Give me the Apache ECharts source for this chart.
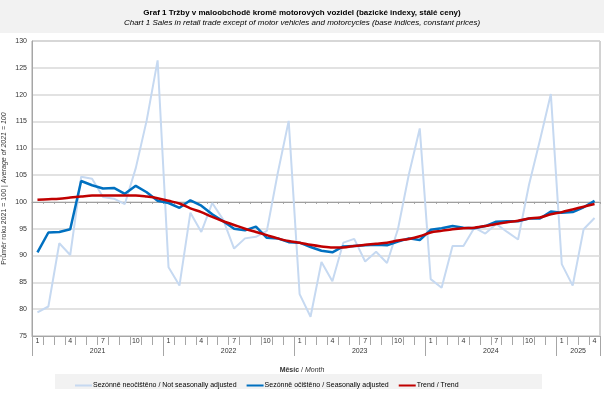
<!DOCTYPE html>
<html>
<head>
<meta charset="utf-8">
<script src="https://cdn.jsdelivr.net/npm/echarts@6/dist/echarts.min.js"></script>
<style>
  html, body { margin: 0; padding: 0; background: #fff; }
  #main { width: 604px; height: 396px; }
</style>
</head>
<body>
<div id="main"></div>
<script>
// rok a počet měsíců v každém roce
var years = ['2021', '2022', '2023', '2024', '2025'];
var monthsInYear = [12, 12, 12, 12, 4];

// Sezónně neočištěno / Not seasonally adjusted
var notAdjusted = [
  79.4, 80.5, 92.3, 90.1, 104.7, 104.3, 100.9, 100.6, 99.6, 106.3, 115.2, 126.4,
  87.8, 84.4, 98.0, 94.4, 99.8, 96.7, 91.3, 93.2, 93.5, 94.6, 105.4, 115.1,
  82.8, 78.6, 88.8, 85.2, 92.4, 93.1, 88.9, 90.7, 88.6, 94.9, 105.1, 113.7,
  85.6, 84.0, 91.8, 91.8, 95.2, 94.1, 95.9, 94.4, 93.0, 103.2, 111.5, 120.1,
  88.4, 84.4, 94.9, 97.0
];
// Sezónně očištěno / Seasonally adjusted
var adjusted = [
  90.6, 94.3, 94.4, 94.9, 103.9, 103.1, 102.5, 102.6, 101.5, 103.0, 101.8, 100.2,
  99.8, 98.9, 100.3, 99.3, 97.7, 96.4, 95.0, 94.7, 95.4, 93.3, 93.2, 92.5,
  92.4, 91.6, 90.9, 90.6, 91.7, 91.8, 91.9, 92.0, 91.9, 92.6, 93.2, 92.9,
  94.8, 95.1, 95.5, 95.2, 95.1, 95.5, 96.3, 96.4, 96.4, 96.9, 96.9, 98.2,
  98.0, 98.1, 99.0, 100.2
];
// Trend / Trend
var trend = [
  100.4, 100.5, 100.6, 100.8, 101.0, 101.2, 101.2, 101.2, 101.2, 101.2, 101.0, 100.7,
  100.2, 99.7, 98.8, 98.1, 97.2, 96.4, 95.7, 95.0, 94.4, 93.8, 93.2, 92.7,
  92.4, 92.0, 91.7, 91.5, 91.5, 91.8, 92.0, 92.2, 92.4, 92.8, 93.1, 93.6,
  94.3, 94.6, 94.9, 95.1, 95.2, 95.5, 95.9, 96.2, 96.5, 96.9, 97.1, 97.7,
  98.1, 98.6, 99.1, 99.6
];

var months = [];
var yearTicks = [0];
var yearLabelPos = [];
var n = 0;
for (var y = 0; y < years.length; y++) {
  for (var m = 1; m <= monthsInYear[y]; m++) months.push(String(m));
  yearLabelPos.push(n + monthsInYear[y] / 2);
  n += monthsInYear[y];
  yearTicks.push(n);
}

var FONT = '"Liberation Sans", Arial, sans-serif';
var gridTop = 41, gridBottom = 60, H = 396;
var plotH = H - gridTop - gridBottom;
var yMin = 75, yMax = 130;

var myChart = echarts.init(document.getElementById('main'));
var option = {
  animation: false,
  textStyle: { fontFamily: FONT },
  graphic: [
    { type: 'rect', left: 0, top: 0, shape: { width: 604, height: 33 }, style: { fill: '#f2f2f2' }, z: -10 },
    { type: 'rect', left: 55, top: 374, shape: { width: 487, height: 15 }, style: { fill: '#f2f2f2' }, z: -10 },
    {
      type: 'text', left: 'center', top: 367,
      style: {
        text: '{b|Měsíc} / {i|Month}',
        rich: {
          b: { fontWeight: 'bold', fontSize: 7, fontFamily: FONT, fill: '#333' },
          i: { fontStyle: 'italic', fontSize: 7, fontFamily: FONT, fill: '#333' }
        },
        fontSize: 7, fontFamily: FONT, fill: '#333'
      }
    }
  ],
  title: {
    text: 'Graf 1 Tržby v maloobchodě kromě motorových vozidel (bazické indexy, stálé ceny)',
    subtext: 'Chart 1 Sales in retail trade except of motor vehicles and motorcycles (base indices, constant prices)',
    left: 'center', top: 9, itemGap: 2, padding: 0,
    textStyle: { fontSize: 8, fontWeight: 'bold', color: '#000', fontFamily: FONT },
    subtextStyle: { fontSize: 8, fontStyle: 'italic', color: '#000', fontFamily: FONT }
  },
  legend: {
    left: 70, top: 377, itemGap: 10, itemWidth: 17, itemHeight: 2, icon: 'rect',
    textStyle: { fontSize: 7, color: '#000', fontFamily: FONT, padding: [0, 0, 0, -4] },
    data: ['Sezónně neočištěno / Not seasonally adjusted', 'Sezónně očištěno / Seasonally adjusted', 'Trend / Trend']
  },
  grid: {
    left: 32, right: 4, top: gridTop, bottom: gridBottom,
    outerBoundsMode: 'none',
    show: true, borderColor: '#a6a6a6', borderWidth: 1
  },
  xAxis: [
    {
      type: 'category', data: months, boundaryGap: true,
      axisLine: { lineStyle: { color: '#a6a6a6' } },
      axisTick: { show: true, interval: 0, length: 9, lineStyle: { color: '#a6a6a6' } },
      axisLabel: {
        interval: function (i) { return i % 3 === 0; },
        fontSize: 7, color: '#333', margin: 2
      },
      splitLine: { show: false }
    },
    {
      type: 'value', min: 0, max: n, position: 'bottom',
      axisLine: { show: false },
      axisTick: { show: true, length: 20, customValues: yearTicks, lineStyle: { color: '#a6a6a6' } },
      axisLabel: {
        customValues: yearLabelPos, fontSize: 7, color: '#333', margin: 12,
        formatter: function (v) { return years[yearLabelPos.indexOf(v)]; }
      },
      splitLine: { show: false }
    },
    {
      type: 'category', data: months, boundaryGap: true, position: 'bottom',
      offset: -plotH * (100 - yMin) / (yMax - yMin),
      axisLine: { lineStyle: { color: '#a0a0a0' } },
      axisTick: { show: true, interval: 0, length: 2, lineStyle: { color: '#a0a0a0' } },
      axisLabel: { show: false },
      splitLine: { show: false }
    }
  ],
  yAxis: {
    type: 'value', min: yMin, max: yMax, interval: 5,
    name: 'Průměr roku 2021 = 100 | {i|Average of 2021 = 100}',
    nameLocation: 'middle', nameGap: 24, nameRotate: 90, nameMoveOverlap: false,
    nameTextStyle: { fontSize: 7, color: '#333', rich: { i: { fontStyle: 'italic', fontSize: 7, color: '#333' } } },
    axisLine: { show: true, lineStyle: { color: '#a6a6a6' } },
    axisTick: { show: false },
    axisLabel: { fontSize: 7, color: '#333', margin: 5 },
    splitLine: { lineStyle: { color: '#d9d9d9', width: 1.5 } }
  },
  series: [
    {
      name: 'Sezónně neočištěno / Not seasonally adjusted', type: 'line', data: notAdjusted,
      symbol: 'none', itemStyle: { color: '#c6d9f1' }, lineStyle: { color: '#c6d9f1', width: 2 }, z: 2
    },
    {
      name: 'Sezónně očištěno / Seasonally adjusted', type: 'line', data: adjusted,
      symbol: 'none', itemStyle: { color: '#0070c0' }, lineStyle: { color: '#0070c0', width: 2.5 }, z: 3
    },
    {
      name: 'Trend / Trend', type: 'line', data: trend, smooth: 0.3,
      symbol: 'none', itemStyle: { color: '#c00000' }, lineStyle: { color: '#c00000', width: 2.5 }, z: 4
    }
  ]
};
myChart.setOption(option);
</script>
</body>
</html>
